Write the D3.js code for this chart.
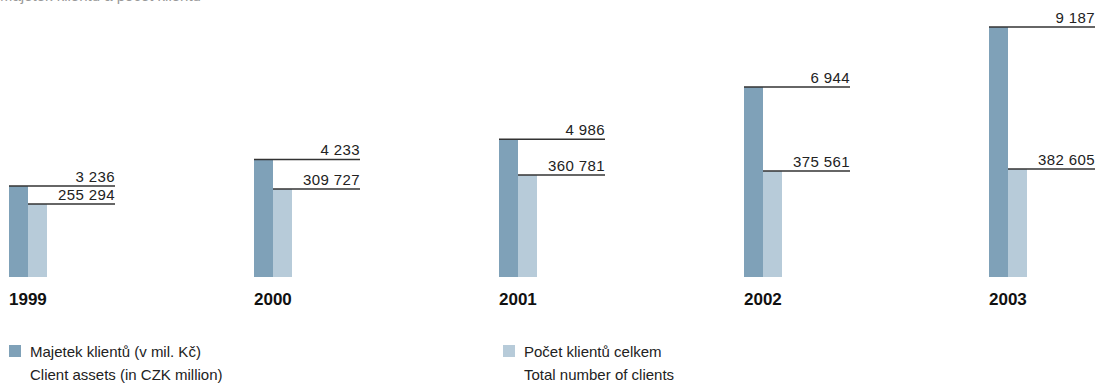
<!DOCTYPE html>
<html>
<head>
<meta charset="utf-8">
<script src="https://cdn.jsdelivr.net/npm/d3@7"></script>
<style>
  body { margin: 0; background: #fff; }
  text { font-family: "Liberation Sans", Arial, sans-serif; }
</style>
</head>
<body>
<div id="chart"></div>
<script>
// data
const years = ["1999", "2000", "2001", "2002", "2003"]
const assets = [3236, 4233, 4986, 6944, 9187]          // Majetek klientů (v mil. Kč)
const clients = [255294, 309727, 360781, 375561, 382605] // Počet klientů celkem
const legendLabels = [
    ["Majetek klientů (v mil. Kč)", "Client assets (in CZK million)"],
    ["Počet klientů celkem", "Total number of clients"]
]
const title = "Majetek klientů a počet klientů"

const darkColor = "#7fa1b8"
const lightColor = "#b7cbd9"
const lineColor = "#333"

const width = 1095, height = 389
const baseline = 277
const barW = 19
const lineLen = 106

let svg = d3.select("#chart").append("svg")
    .attr("width", width)
    .attr("height", height)

// title, mostly above the visible area in the reference
svg.append("text")
    .attr("x", 0).attr("y", 0.5)
    .attr("font-size", 15)
    .attr("fill", "#999")
    .text(title)

// scales
let x = d3.scalePoint().domain(years).range([9, 989])
let yA = d3.scaleLinear().domain([0, d3.max(assets)]).range([272.5, 27])
let yC = d3.scaleLinear().domain([0, d3.max(clients)]).range([274.2, 169])

let data = years.map((yr, i) => ({year: yr, a: assets[i], c: clients[i]}))
let fmt = v => d3.format(",")(v).replace(/,/g, " ")

let g = svg.selectAll(".grp").data(data).enter().append("g")
    .attr("class", "grp")
    .attr("transform", d => `translate(${x(d.year)},0)`)

// bars
g.append("rect")
    .attr("x", 0).attr("width", barW)
    .attr("y", d => yA(d.a)).attr("height", d => baseline - yA(d.a))
    .attr("fill", darkColor)
g.append("rect")
    .attr("x", barW).attr("width", barW)
    .attr("y", d => yC(d.c)).attr("height", d => baseline - yC(d.c))
    .attr("fill", lightColor)

// leader lines
g.append("line")
    .attr("x1", 0).attr("x2", lineLen)
    .attr("y1", d => yA(d.a)).attr("y2", d => yA(d.a))
    .attr("stroke", lineColor).attr("stroke-width", 1.5)
g.append("line")
    .attr("x1", barW).attr("x2", lineLen)
    .attr("y1", d => yC(d.c)).attr("y2", d => yC(d.c))
    .attr("stroke", lineColor).attr("stroke-width", 1.5)

// value labels
g.append("text")
    .attr("x", lineLen).attr("y", d => yA(d.a) - 4)
    .attr("text-anchor", "end")
    .attr("font-size", 15).attr("letter-spacing", 0.4)
    .attr("fill", "#222")
    .text(d => fmt(d.a))
g.append("text")
    .attr("x", lineLen).attr("y", d => yC(d.c) - 4)
    .attr("text-anchor", "end")
    .attr("font-size", 15).attr("letter-spacing", 0.4)
    .attr("fill", "#222")
    .text(d => fmt(d.c))

// year labels
g.append("text")
    .attr("x", 0).attr("y", 305)
    .attr("font-size", 17).attr("font-weight", "bold")
    .attr("fill", "#111")
    .text(d => d.year)

// legend
let legX = [9, 503]
let legColors = [darkColor, lightColor]
legendLabels.forEach((lab, i) => {
    let lg = svg.append("g").attr("transform", `translate(${legX[i]},0)`)
    lg.append("rect").attr("x", 0).attr("y", 345).attr("width", 12).attr("height", 12)
        .attr("fill", legColors[i])
    lg.append("text").attr("x", 21).attr("y", 357).attr("font-size", 15).attr("fill", "#222")
        .text(lab[0])
    lg.append("text").attr("x", 21).attr("y", 380).attr("font-size", 15).attr("fill", "#222")
        .text(lab[1])
})
</script>
</body>
</html>
